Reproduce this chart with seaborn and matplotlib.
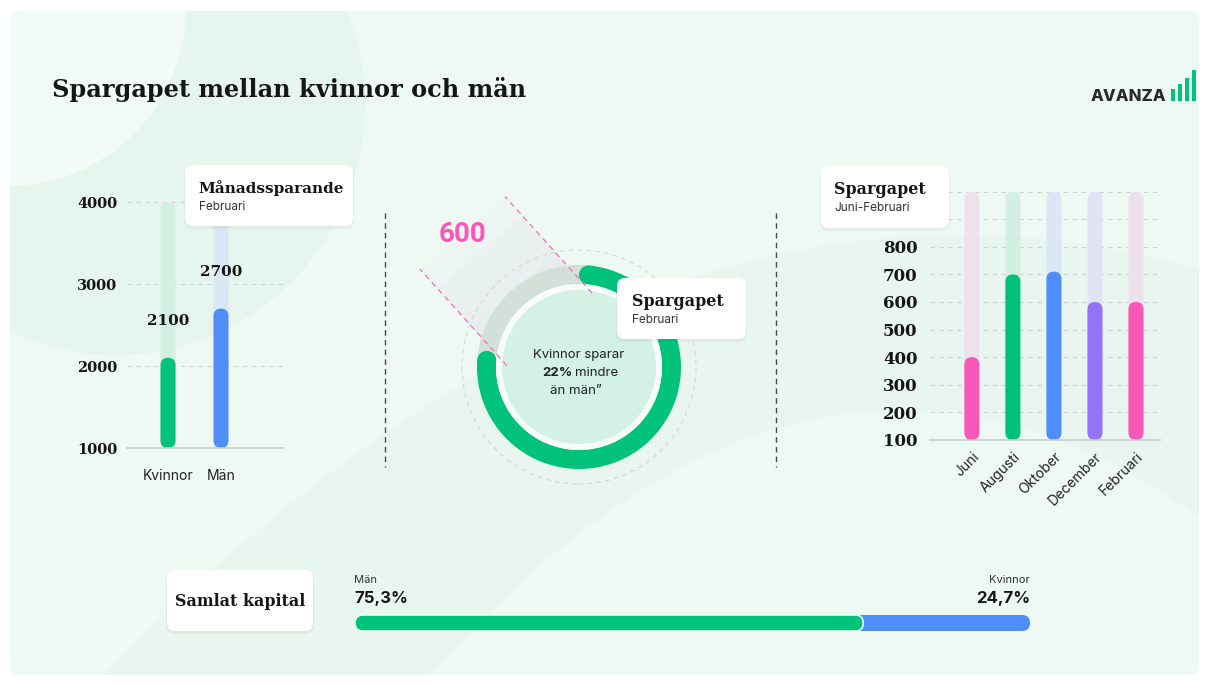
import numpy as np
import matplotlib
matplotlib.use("Agg")
import matplotlib.pyplot as plt
import seaborn as sns
from matplotlib.patches import FancyBboxPatch, Circle, Polygon, Rectangle

# --- data ---
manad_kat = ["Kvinnor", "Män"]
manad_varde = [2100, 2700]
manad_farg = ["#00c27a", "#4f8ef7"]
manad_spar = ["#d3efe2", "#dbe7f5"]
manad_ticks = [1000, 2000, 3000, 4000]

gap_manad = ["Juni", "Augusti", "Oktober", "December", "Februari"]
gap_varde = [400, 700, 710, 600, 600]
gap_farg = ["#f857b7", "#00c27a", "#4f8ef7", "#9473f7", "#f857b7"]
gap_spar = ["#ede2ec", "#d3efe2", "#dbe7f5", "#e2e4f6", "#ede2ec"]
gap_ticks = [100, 200, 300, 400, 500, 600, 700, 800, 900, 1000]
gap_ticklabels = ["100", "200", "300", "400", "500", "600", "700", "800", "", ""]

kapital_kat = ["Män", "Kvinnor"]
kapital_andel = [75.3, 24.7]
kapital_farg = ["#00c27a", "#4f8ef7"]

GREEN = "#00c27a"
PINK = "#f857b7"
BG = "#eef9f4"
TXT = "#161616"
SLAB = "DejaVu Serif"

sns.set_theme(style="white")
plt.rcParams["font.family"] = ["Inter", "DejaVu Sans"]

W, H = 1209, 684
fig = plt.figure(figsize=(W / 100, H / 100), dpi=100)
fig.patch.set_facecolor("white")


def px_axes(x0, y0, x1, y1):
    ax = fig.add_axes([x0 / W, 1 - y1 / H, (x1 - x0) / W, (y1 - y0) / H])
    ax.set_facecolor("none")
    return ax


def rounded(ax, r_px, base, horizontal=False, edge=None):
    # byt seaborns rektanglar mot staplar med rundade ändar
    x0, x1 = ax.get_xlim()
    y0, y1 = ax.get_ylim()
    bb = ax.get_position()
    ux = abs(x1 - x0) / (bb.width * W)
    uy = abs(y1 - y0) / (bb.height * H)
    for i, p in enumerate(list(ax.patches)):
        x, y, w, h = p.get_x(), p.get_y(), p.get_width(), p.get_height()
        if horizontal:
            x, w = base, x + w - base
        else:
            y, h = base, y + h - base
        ec, lw = ("none", 0) if edge is None or i not in edge else (edge[i], 1.2)
        fb = FancyBboxPatch((x, y), w, h,
                            boxstyle=f"round,pad=0,rounding_size={r_px * ux}",
                            mutation_aspect=uy / ux, fc=p.get_facecolor(),
                            ec=ec, lw=lw, zorder=2 + i * 0.01, clip_on=False)
        p.remove()
        ax.add_patch(fb)


# bakgrund
bg = fig.add_axes([0, 0, 1, 1])
bg.set_xlim(0, W)
bg.set_ylim(H, 0)
bg.axis("off")
panel = FancyBboxPatch((10, 11), 1189, 664, boxstyle="round,pad=0,rounding_size=10",
                       fc=BG, ec="none")
bg.add_patch(panel)
for c in [Circle((115, 105), 250, fc="#e6f6ee", ec="none"),
          Circle((8, 8), 178, fc="#f2fbf7", ec="none")]:
    bg.add_patch(c)
    c.set_clip_path(panel)
xs = np.linspace(10, 1199, 400)
up = 235 + 0.0006 * (xs - 960) ** 2
lo = 410 + 0.0012 * (xs - 900) ** 2
band = bg.fill_between(xs, up, lo, where=lo > up, color="#e8f6ef", lw=0)
band.set_clip_path(panel)

# --- vänster: månadssparande ---
axL = px_axes(127, 202, 283, 448)
sns.barplot(x=manad_kat, y=[manad_ticks[-1]] * 2, hue=manad_kat,
            palette=dict(zip(manad_kat, manad_spar)), width=0.283, saturation=1,
            legend=False, errorbar=None, ax=axL)
sns.barplot(x=manad_kat, y=manad_varde, hue=manad_kat,
            palette=dict(zip(manad_kat, manad_farg)), width=0.283, saturation=1,
            legend=False, errorbar=None, ax=axL)
axL.set_xlim(-0.774, 2.17)
axL.set_ylim(manad_ticks[0], manad_ticks[-1])
rounded(axL, 7.5, manad_ticks[0])
axL.set_yticks(manad_ticks)
axL.set_yticklabels([str(t) for t in manad_ticks], fontfamily=SLAB,
                    fontweight="bold", fontsize=10.5, color=TXT)
axL.set_xticks(range(len(manad_kat)))
axL.set_xticklabels(manad_kat, fontsize=10, color="#222222")
axL.tick_params(axis="y", length=0, pad=7)
axL.tick_params(axis="x", length=0, pad=15)
axL.yaxis.grid(True, linestyle=(0, (4, 4)), color="#cbd5d0", lw=0.8)
axL.set_axisbelow(True)
sns.despine(ax=axL, left=True)
axL.spines["bottom"].set_color("#c5ceca")
axL.spines["bottom"].set_linewidth(1.2)
axL.set_xlabel("")
axL.set_ylabel("")
for i, v in enumerate(manad_varde):
    axL.text(i, v + 450, str(v), ha="center", va="center", fontfamily=SLAB,
             fontweight="bold", fontsize=11, color=TXT)

# --- mitten: spargapet februari ---
man, kvinna = manad_varde[1], manad_varde[0]
gap = man - kvinna
axD = px_axes(399, 187, 759, 547)
wedges, _ = axD.pie([gap, kvinna], startangle=90, counterclock=True, radius=1.02,
                    colors=["#d3e0da", GREEN], wedgeprops=dict(width=0.19, linewidth=0))
axD.set_xlim(-1.8, 1.8)
axD.set_ylim(-1.8, 1.8)
axD.set_aspect("equal")
axD.axis("off")
t_start = 90
t_end = 90 + 360 * gap / man
cap_r, r_mid = 0.095, 1.02 - 0.095
dt = np.degrees(cap_r / r_mid)
wedges[0].set_theta1(t_start - dt)
wedges[0].set_theta2(t_end + dt)
wedges[0].set_zorder(1)
wedges[1].set_theta1(t_end + dt)
wedges[1].set_theta2(t_start + 360 - dt)
wedges[1].set_zorder(2)
for a in [t_end + dt, t_start - dt]:
    axD.add_patch(Circle((r_mid * np.cos(np.radians(a)), r_mid * np.sin(np.radians(a))),
                         cap_r, fc=GREEN, ec="none", zorder=2))
axD.add_patch(Circle((0, 0), 1.17, fill=False, ec="#cfd9d4", lw=0.8,
                     ls=(0, (4, 4)), zorder=0.6))
axD.add_patch(Circle((0, 0), 0.83, fc="#f7fcfa", ec="none", zorder=3))
axD.add_patch(Circle((0, 0), 0.77, fc="#d3f1e4", ec="none", zorder=4))

# skuggat band ut från gapet
mid = np.radians((t_start + t_end) / 2 + 2)
d = np.array([np.cos(mid), np.sin(mid)])
p1 = 0.75 * np.array([np.cos(np.radians(t_start - 10)), np.sin(np.radians(t_start - 10))])
p2 = 0.72 * np.array([np.cos(np.radians(t_end + 9)), np.sin(np.radians(t_end + 9))])
for k in range(1, 6):
    L = 1.3 * k / 5
    axD.add_patch(Polygon([p1, p1 + L * d, p2 + L * d, p2], closed=True,
                          fc="#ddd0db", ec="none", alpha=0.08, zorder=0.5))
for p in (p1, p2):
    axD.plot([p[0], p[0] + 1.3 * d[0]], [p[1], p[1] + 1.3 * d[1]], color="#f07cbd",
             lw=1, ls=(0, (4, 3)), zorder=6, clip_on=False)
axD.text(-1.17, 1.32, str(gap), color=PINK, fontsize=20, fontweight="bold",
         fontfamily="Roboto", ha="center", va="center")
axD.text(0, 0.12, "Kvinnor sparar", ha="center", va="center", fontsize=9.5,
         color="#222222", zorder=5)
axD.text(-0.065, -0.06, f"{round(100 * gap / man)}%", ha="right", va="center",
         fontsize=9.5, fontweight="bold", color="#222222", zorder=5)
axD.text(-0.035, -0.06, "mindre", ha="left", va="center", fontsize=9.5,
         color="#222222", zorder=5)
axD.text(-0.03, -0.24, "än män\u201d", ha="center", va="center", fontsize=9.5,
         color="#222222", zorder=5)

# --- höger: spargapet juni-februari ---
axR = px_axes(930, 191.6, 1160, 440)
sns.barplot(x=gap_manad, y=[gap_ticks[-1]] * len(gap_manad), hue=gap_manad,
            palette=dict(zip(gap_manad, gap_spar)), width=0.366, saturation=1,
            legend=False, errorbar=None, ax=axR)
sns.barplot(x=gap_manad, y=gap_varde, hue=gap_manad,
            palette=dict(zip(gap_manad, gap_farg)), width=0.366, saturation=1,
            legend=False, errorbar=None, ax=axR)
axR.set_xlim(-1.02, 4.585)
axR.set_ylim(gap_ticks[0], gap_ticks[-1])
rounded(axR, 7.5, gap_ticks[0])
axR.set_yticks(gap_ticks)
axR.set_yticklabels(gap_ticklabels, fontfamily=SLAB,
                    fontweight="bold", fontsize=12, color=TXT)
axR.set_xticks(range(len(gap_manad)))
axR.set_xticklabels(gap_manad, fontsize=10, color="#222222", rotation=45,
                    ha="right", rotation_mode="anchor")
axR.tick_params(axis="y", length=0, pad=9)
axR.tick_params(axis="x", length=0, pad=7)
axR.yaxis.grid(True, linestyle=(0, (4, 4)), color="#cbd5d0", lw=0.8)
axR.set_axisbelow(True)
sns.despine(ax=axR, left=True)
axR.spines["bottom"].set_color("#c5ceca")
axR.spines["bottom"].set_linewidth(1.2)
axR.set_xlabel("")
axR.set_ylabel("")

# --- nederst: samlat kapital ---
axB = px_axes(355, 615, 1030, 631)
kum = np.cumsum(kapital_andel)
sns.barplot(x=[kum[1]], y=["kapital"], orient="h", color=kapital_farg[1],
            width=1, saturation=1, errorbar=None, ax=axB)
sns.barplot(x=[kum[0]], y=["kapital"], orient="h", color=kapital_farg[0],
            width=1, saturation=1, errorbar=None, ax=axB)
axB.set_xlim(0, 100)
axB.set_ylim(0.5, -0.5)
rounded(axB, 8, 0, horizontal=True, edge={1: BG})
axB.axis("off")

# --- förgrund: rubriker, kort, logga ---
fg = fig.add_axes([0, 0, 1, 1])
fg.set_xlim(0, W)
fg.set_ylim(H, 0)
fg.axis("off")
fg.set_zorder(10)


def card(x0, y0, x1, y1):
    fg.add_patch(FancyBboxPatch((x0 - 1, y0 + 1), x1 - x0 + 2, y1 - y0 + 2,
                                boxstyle="round,pad=0,rounding_size=9",
                                fc="#000000", alpha=0.04, ec="none"))
    fg.add_patch(FancyBboxPatch((x0, y0), x1 - x0, y1 - y0,
                                boxstyle="round,pad=0,rounding_size=8",
                                fc="white", ec="none"))


fg.text(52, 97, "Spargapet mellan kvinnor och män", fontfamily=SLAB,
        fontweight="bold", fontsize=17.3, color=TXT, va="baseline")

card(185, 165, 353, 226)
fg.text(198, 193, "Månadssparande", fontfamily=SLAB, fontweight="bold",
        fontsize=11, color=TXT, va="baseline")
fg.text(199, 207, "Februari", fontsize=8.5, color="#333333", va="center")

card(617, 278, 746, 339)
fg.text(632, 306, "Spargapet", fontfamily=SLAB, fontweight="bold",
        fontsize=11.5, color=TXT, va="baseline")
fg.text(632, 320, "Februari", fontsize=8.5, color="#333333", va="center")

card(821, 166, 949, 228)
fg.text(834, 194, "Spargapet", fontfamily=SLAB, fontweight="bold",
        fontsize=11.5, color=TXT, va="baseline")
fg.text(834, 208, "Juni-Februari", fontsize=8.5, color="#333333", va="center")

card(167, 570, 313, 631)
fg.text(240, 601, "Samlat kapital", fontfamily=SLAB, fontweight="bold",
        fontsize=11.5, color=TXT, ha="center", va="center")

fmt = [f"{v:.1f}".replace(".", ",") + "%" for v in kapital_andel]
fg.text(354, 580, kapital_kat[0], fontsize=8, color="#333333", va="center")
fg.text(354, 598, fmt[0], fontsize=12, fontweight="bold", color=TXT, va="center")
fg.text(1030, 580, kapital_kat[1], fontsize=8, color="#333333", ha="right", va="center")
fg.text(1030, 598, fmt[1], fontsize=12, fontweight="bold", color=TXT, ha="right", va="center")

for x in (385, 776):
    fg.plot([x, x], [213, 467], color="#4a4a4a", lw=1, ls=(0, (4, 3)))

fg.text(1166, 101, "AVANZA", fontsize=12, fontweight="heavy", color="#2a2a2a",
        ha="right", va="baseline")
for i, hgt in enumerate([12, 17, 23, 31]):
    fg.add_patch(Rectangle((1171 + i * 7, 101 - hgt), 4, hgt, fc=GREEN, ec="none"))

fig.savefig("out.png", dpi=100)
